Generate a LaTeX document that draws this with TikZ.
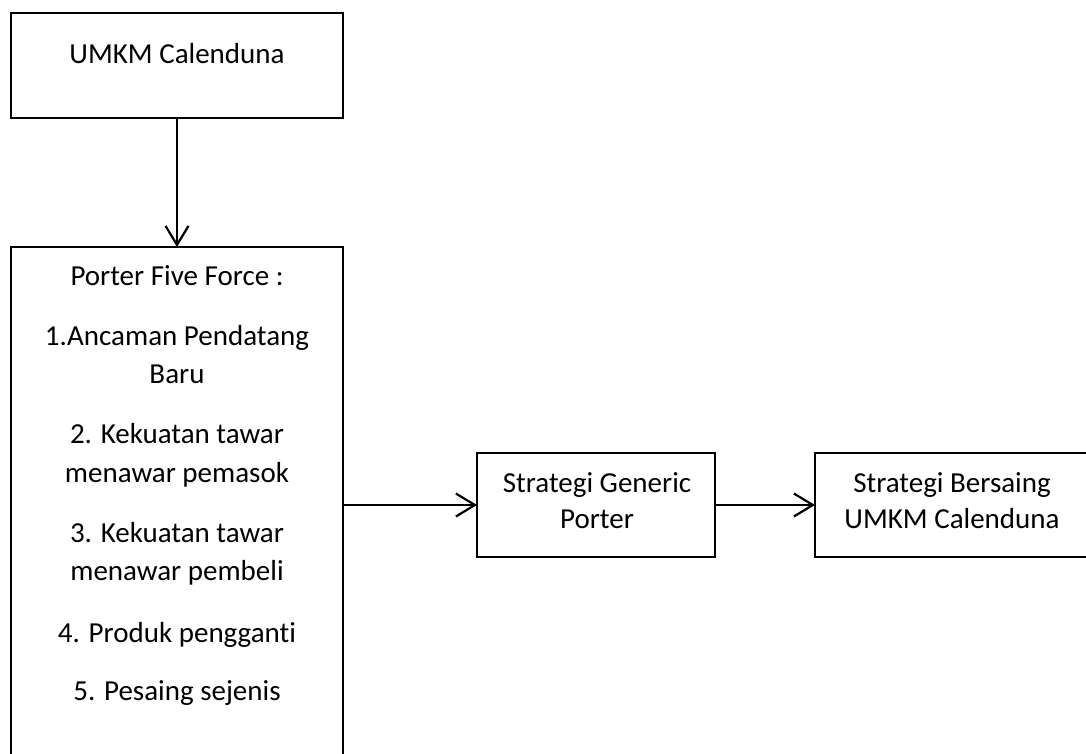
\documentclass[tikz,border=0pt]{standalone}
\usepackage{fontspec}
\setmainfont{Carlito}[Ligatures=NoCommon]
\usetikzlibrary{arrows.meta}
\begin{document}
\begin{tikzpicture}[x=1pt,y=-1pt,
  box/.style={draw=black, line width=2.2pt, rectangle, inner sep=0pt, outer sep=0pt},
  txt/.style={inner sep=0pt, outer sep=0pt, anchor=base, font=\fontsize{29pt}{38pt}\selectfont},
  conn/.style={line width=2.2pt, -{Straight Barb[length=19pt,width=23pt,line width=2.2pt]}}
]
\useasboundingbox[fill=white] (0,0) rectangle (1086,753);
% boxes
\node[box, minimum width=332pt, minimum height=105pt] (b1) at (177,65.5) {};
\node[box, minimum width=332pt, minimum height=553pt] (b2) at (177,523.5) {};
\node[box, minimum width=238pt, minimum height=104pt] (b3) at (596,505) {};
\node[box, minimum width=274pt, minimum height=104pt] (b4) at (952,505) {};
% texts
\node[txt] (t1) at (177,63) {UMKM Calenduna};
\node[txt] (p0) at (177,285) {Porter Five Force :};
\node[txt] (p1a) at (177,345) {1.Ancaman Pendatang};
\node[txt] (p1b) at (177,383) {Baru};
\node[txt] (p2a) at (177,443) {2. Kekuatan tawar};
\node[txt] (p2b) at (177,482) {menawar pemasok};
\node[txt] (p3a) at (177,542) {3. Kekuatan tawar};
\node[txt] (p3b) at (177,580) {menawar pembeli};
\node[txt] (p4) at (177,642) {4. Produk pengganti};
\node[txt] (p5) at (177,700) {5. Pesaing sejenis};
\node[txt] (s1a) at (597,492) {Strategi Generic};
\node[txt] (s1b) at (597,528) {Porter};
\node[txt] (s2a) at (952,492) {Strategi Bersaing};
\node[txt] (s2b) at (952,528) {UMKM Calenduna};
% connectors
\draw[conn] (b1.south) -- (b2.north);
\draw[conn] (b2.east |- b3.west) -- (b3.west);
\draw[conn] (b3.east) -- (b4.west);
\end{tikzpicture}
\end{document}
